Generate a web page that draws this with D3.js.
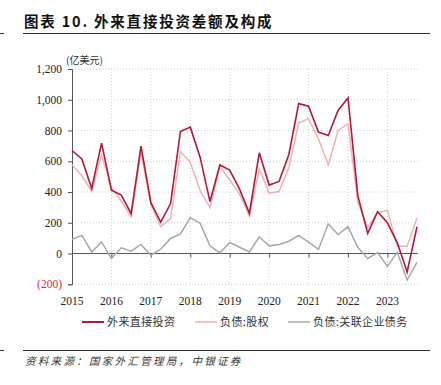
<!DOCTYPE html>
<html>
<head>
<meta charset="utf-8">
<script src="https://cdn.jsdelivr.net/npm/d3@7"></script>
<style>
body { margin: 0; background: #fff; }
svg { display: block; }
</style>
</head>
<body>
<svg id="chart" width="441" height="385"></svg>
<script>
// quarterly, 2015Q1 .. 2023Q4, 亿美元
const quarters = d3.range(36);
const years = [2015, 2016, 2017, 2018, 2019, 2020, 2021, 2022, 2023];
const yTicks = [-200, 0, 200, 400, 600, 800, 1000, 1200];
const fdi = [670, 615, 423, 718, 412, 380, 259, 698, 331, 205, 325, 794,
             822, 625, 338, 576, 543, 419, 262, 655, 445, 469, 644, 975,
             958, 790, 768, 932, 1012, 375, 131, 272, 200, 70, -120, 174];
const equity = [578, 506, 405, 640, 430, 340, 240, 660, 320, 175, 227, 663,
                593, 408, 297, 565, 478, 386, 244, 550, 393, 403, 560, 849,
                877, 746, 576, 801, 844, 331, 168, 266, 281, 48, 48, 233];
const debt = [92, 118, 10, 76, -33, 37, 15, 59, -11, 28, 98, 128,
              233, 196, 50, 4, 72, 41, 10, 109, 50, 59, 80, 118,
              74, 28, 192, 124, 174, 41, -33, 6, -83, 8, -172, -57];
const seriesNames = ['外来直接投资', '负债:股权', '负债:关联企业债务'];
const seriesColors = ['#B5173C', '#F2B1B1', '#A8A8A8'];

const svg = d3.select('#chart');
const cjk = '"Noto Sans CJK SC", sans-serif';
const serif = '"Liberation Serif", "DejaVu Serif", serif';

const x = d3.scaleLinear().domain([0, 35]).range([72, 417]);
const y = d3.scaleLinear().domain([-200, 1200]).range([284.3, 69]);

// title
svg.append('text').attr('x', 24).attr('y', 27)
    .attr('font-family', cjk).attr('font-weight', 'bold').attr('font-size', 14.5)
    .attr('letter-spacing', 1.8)
    .attr('fill', '#111').text('图表 10. 外来直接投资差额及构成');
svg.append('line').attr('x1', 23).attr('x2', 430).attr('y1', 33.5).attr('y2', 33.5)
    .attr('stroke', '#333').attr('stroke-width', 1);
svg.append('line').attr('x1', 0).attr('x2', 4).attr('y1', 33.5).attr('y2', 33.5)
    .attr('stroke', '#333').attr('stroke-width', 1);

// grid
svg.append('g').selectAll('line').data(yTicks.filter(d => d !== 0)).enter().append('line')
    .attr('x1', 72).attr('x2', 418)
    .attr('y1', d => y(d)).attr('y2', d => y(d))
    .attr('stroke', '#d0d0d0').attr('stroke-dasharray', '1,2');
svg.append('g').selectAll('line').data(years.slice(1)).enter().append('line')
    .attr('x1', (d, i) => x((i + 1) * 4)).attr('x2', (d, i) => x((i + 1) * 4))
    .attr('y1', y(1200)).attr('y2', y(-200))
    .attr('stroke', '#d0d0d0').attr('stroke-dasharray', '1,2');

// y axis
const yAxis = svg.append('g').attr('transform', 'translate(72,0)')
    .call(d3.axisLeft(y).tickValues(yTicks).tickSize(4).tickPadding(6)
        .tickFormat(d => d < 0 ? '(' + d3.format(',')(-d) + ')' : d3.format(',')(d)));
yAxis.select('.domain').attr('stroke', '#555');
yAxis.selectAll('.tick line').attr('stroke', '#555');
yAxis.selectAll('text').attr('font-family', serif).attr('font-size', 11.5)
    .attr('fill', d => d < 0 ? '#e8262b' : '#222');

svg.append('text').attr('x', 66).attr('y', 64)
    .attr('font-family', cjk).attr('font-size', 10).attr('fill', '#333')
    .text('(亿美元)');

// x axis on zero line
const xAxis = svg.append('g').attr('transform', `translate(0,${y(0)})`)
    .call(d3.axisBottom(x).tickValues(years.slice(1).map((d, i) => (i + 1) * 4))
        .tickSize(4).tickFormat(''));
xAxis.select('.domain').remove();
xAxis.selectAll('.tick line').attr('stroke', '#555');
svg.append('line').attr('x1', 72).attr('x2', 418).attr('y1', y(0)).attr('y2', y(0))
    .attr('stroke', '#555').attr('stroke-width', 1);

svg.append('g').selectAll('text').data(years).enter().append('text')
    .attr('x', (d, i) => x(i * 4)).attr('y', 305)
    .attr('text-anchor', 'middle')
    .attr('font-family', serif).attr('font-size', 11.5).attr('fill', '#222')
    .text(d => d);

// lines
const line = d3.line().x((d, i) => x(i)).y(d => y(d));
const data = [fdi, equity, debt];
[2, 1, 0].forEach(k => {
    svg.append('path').datum(data[k])
        .attr('fill', 'none').attr('stroke', seriesColors[k])
        .attr('stroke-width', k === 0 ? 1.6 : 1.5)
        .attr('stroke-linejoin', 'miter')
        .attr('d', line);
});

// legend
const legendX = [82, 195, 288];
seriesNames.forEach((name, k) => {
    svg.append('line').attr('x1', legendX[k]).attr('x2', legendX[k] + 22)
        .attr('y1', 322).attr('y2', 322)
        .attr('stroke', seriesColors[k]).attr('stroke-width', k === 0 ? 2 : 1.5);
    svg.append('text').attr('x', legendX[k] + 25).attr('y', 326)
        .attr('font-family', cjk).attr('font-size', 11).attr('fill', '#333')
        .attr('letter-spacing', 0.4)
        .text(name);
});

// footer
svg.append('line').attr('x1', 23).attr('x2', 430).attr('y1', 350.5).attr('y2', 350.5)
    .attr('stroke', '#333').attr('stroke-width', 1);
svg.append('line').attr('x1', 0).attr('x2', 4).attr('y1', 350.5).attr('y2', 350.5)
    .attr('stroke', '#333').attr('stroke-width', 1);
svg.append('text').attr('x', 25).attr('y', 365)
    .attr('font-family', cjk).attr('font-size', 10.5).attr('font-style', 'italic')
    .attr('letter-spacing', 2.3)
    .attr('fill', '#333')
    .text('资料来源：国家外汇管理局，中银证券');
</script>
</body>
</html>
